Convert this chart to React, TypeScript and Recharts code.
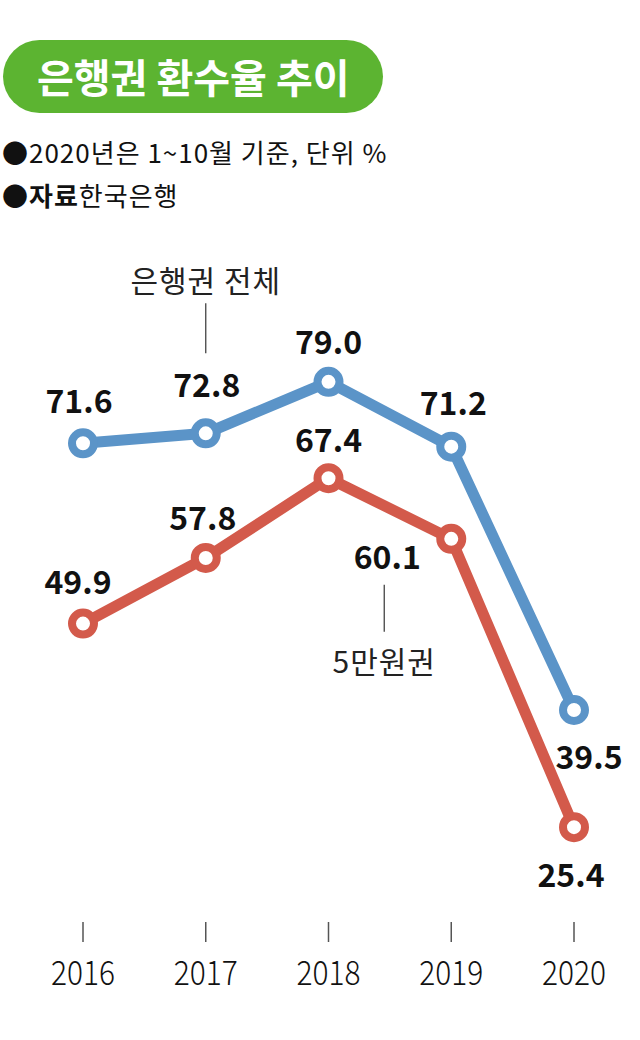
import React from 'react';
import { LineChart, Line, XAxis, YAxis, LabelList } from 'recharts';

const years = ['2016', '2017', '2018', '2019', '2020'];
const totalRates = [71.6, 72.8, 79.0, 71.2, 39.5];
const fiftyRates = [49.9, 57.8, 67.4, 60.1, 25.4];

const data = years.map((y, i) => ({ year: y, total: totalRates[i], fifty: fiftyRates[i] }));

const BLUE = '#5b94c8';
const RED = '#d35a4b';
const GREEN = '#5cb431';
const FONT = '"Noto Sans CJK KR", "Noto Sans", sans-serif';

const totalLabelOffsets = [[-4, -44], [1, -50], [0, -42], [2, -46], [15, 45]];
const fiftyLabelOffsets = [[-5, -44], [-3, -42], [0, -40], [-64, 16], [-3, 46]];

const makeLabel = (offsets: number[][], series: 'total' | 'fifty') => (props: any) => {
  const { x, y, value, index } = props;
  const [dx, dy] = offsets[index] || [0, -40];
  return (
    <g>
      <text
        x={x + dx}
        y={y + dy}
        textAnchor="middle"
        dominantBaseline="central"
        fontFamily={FONT}
        fontWeight={700}
        fontSize={32}
        fill="#111"
      >
        {Number(value).toFixed(1)}
      </text>
      {series === 'total' && index === 1 && (
        <g>
          <line x1={x} x2={x} y1={y - 130} y2={y - 80} stroke="#444" strokeWidth={1.3} />
          <text x={x} y={y - 154} textAnchor="middle" dominantBaseline="central" fontFamily={FONT} fontSize={30} letterSpacing={1} fill="#222">
            은행권 전체
          </text>
        </g>
      )}
      {series === 'fifty' && index === 3 && (
        <g>
          <line x1={x - 67} x2={x - 67} y1={y + 46} y2={y + 93} stroke="#444" strokeWidth={1.3} />
          <text x={x - 67} y={y + 121} textAnchor="middle" dominantBaseline="central" fontFamily={FONT} fontSize={30} letterSpacing={1} fill="#222">
            5만원권
          </text>
        </g>
      )}
    </g>
  );
};

const YearTick = (props: any) => {
  const { x, y, payload } = props;
  return (
    <g>
      <line x1={x} x2={x} y1={y + 50} y2={y + 70} stroke="#555" strokeWidth={1.5} />
      <text
        x={x}
        y={y + 98}
        textAnchor="middle"
        dominantBaseline="central"
        fontFamily={FONT}
        fontWeight={300}
        fontSize={34}
        textLength={64}
        lengthAdjust="spacingAndGlyphs"
        fill="#111"
      >
        {payload.value}
      </text>
    </g>
  );
};

export default function App() {
  return (
    <div style={{ position: 'absolute', left: 0, top: 0, width: 640, height: 1040, background: '#fff', overflow: 'hidden' }}>
      <div
        style={{
          position: 'absolute',
          left: 3,
          top: 40,
          width: 380,
          height: 73,
          borderRadius: 37,
          background: GREEN,
          color: '#fff',
          fontFamily: FONT,
          fontWeight: 700,
          fontSize: 40,
          lineHeight: '73px',
          paddingLeft: 34,
          boxSizing: 'border-box',
          whiteSpace: 'nowrap',
        }}
      >
        은행권 환수율 추이
      </div>
      <div style={{ position: 'absolute', left: 2, top: 134, fontFamily: FONT, fontSize: 26, lineHeight: '36px', color: '#111', whiteSpace: 'nowrap', letterSpacing: 1 }}>
        ●2020년은 1~10월 기준, 단위 %
      </div>
      <div style={{ position: 'absolute', left: 2, top: 177, fontFamily: FONT, fontSize: 26, lineHeight: '36px', color: '#111', whiteSpace: 'nowrap', letterSpacing: 1 }}>
        ●<b>자료</b>한국은행
      </div>
      <div style={{ position: 'absolute', left: 0, top: 0 }}>
        <LineChart width={640} height={1040} data={data} margin={{ top: 332, right: 66, bottom: 138, left: 83 }}>
          <XAxis
            dataKey="year"
            axisLine={false}
            tickLine={false}
            tickSize={0}
            tickMargin={0}
            height={30}
            interval={0}
            tick={<YearTick />}
          />
          <YAxis hide domain={[20, 85]} allowDataOverflow />
          <Line
            type="linear"
            dataKey="total"
            stroke={BLUE}
            strokeWidth={11}
            strokeLinejoin="round"
            dot={{ r: 11, strokeWidth: 8, fill: '#fff', stroke: BLUE }}
            activeDot={false}
            isAnimationActive={false}
          >
            <LabelList dataKey="total" content={makeLabel(totalLabelOffsets, 'total')} />
          </Line>
          <Line
            type="linear"
            dataKey="fifty"
            stroke={RED}
            strokeWidth={11}
            strokeLinejoin="round"
            dot={{ r: 11, strokeWidth: 8, fill: '#fff', stroke: RED }}
            activeDot={false}
            isAnimationActive={false}
          >
            <LabelList dataKey="fifty" content={makeLabel(fiftyLabelOffsets, 'fifty')} />
          </Line>
        </LineChart>
      </div>
    </div>
  );
}
